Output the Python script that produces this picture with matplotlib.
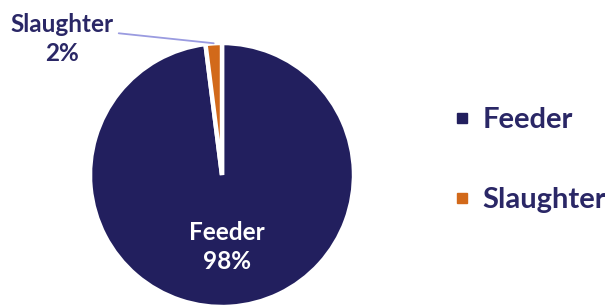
import matplotlib
matplotlib.use("Agg")
import matplotlib.pyplot as plt
from matplotlib.lines import Line2D
import numpy as np

categories = ["Feeder", "Slaughter"]
values = [98, 2]
colors = ["#221F5E", "#D2691A"]
text_color = "#2A2766"

plt.rcParams['font.family'] = ['Lato', 'DejaVu Sans']

fig = plt.figure(figsize=(6.05, 3.05), dpi=100)
cx, cy, r = 222, 175, 132
W, H = 605, 305
ax = fig.add_axes([(cx - r) / W, (H - cy - r) / H, 2 * r / W, 2 * r / H])

wedges, _ = ax.pie(values, colors=colors, startangle=90, counterclock=False,
                   radius=1.0, wedgeprops=dict(edgecolor="white", linewidth=3.2))
for w in wedges:
    w.set_clip_on(False)
ax.set_xlim(-1, 1)
ax.set_ylim(-1, 1)
ax.set_aspect("equal")
ax.axis("off")

# Feeder label inside
w0 = wedges[0]
ang = np.deg2rad((w0.theta1 + w0.theta2) / 2)
ax.text(0.545 * np.cos(ang), 0.545 * np.sin(ang), f"{categories[0]}\n{values[0]}%",
        ha="center", va="center", color="white", fontsize=17.5, fontweight="bold",
        linespacing=1.3)

# Slaughter label outside with leader line
w1 = wedges[1]
ang1 = np.deg2rad((w1.theta1 + w1.theta2) / 2)
ax.annotate(f"{categories[1]}\n{values[1]}%",
            xy=(np.cos(ang1), np.sin(ang1)), xytext=(-1.215, 1.03),
            ha="center", va="center", color=text_color, fontsize=17.5, fontweight="bold",
            linespacing=1.36, annotation_clip=False,
            arrowprops=dict(arrowstyle="-", color="#9A9BE0", lw=1.3,
                            relpos=(1.0, 0.62), shrinkA=2, shrinkB=0))

handles = [Line2D([], [], marker="s", linestyle="none", markersize=6.5,
                  markerfacecolor=c, markeredgecolor=c) for c in colors]
leg = fig.legend(handles, categories, loc="center left", bbox_to_anchor=(0.752, 0.475),
                 frameon=False, handlelength=0.5, handletextpad=0.45,
                 labelspacing=1.85, borderpad=0, borderaxespad=0,
                 prop=dict(family="Lato", weight="bold", size=21))
for t in leg.get_texts():
    t.set_color(text_color)

fig.savefig("out.png", dpi=100)
